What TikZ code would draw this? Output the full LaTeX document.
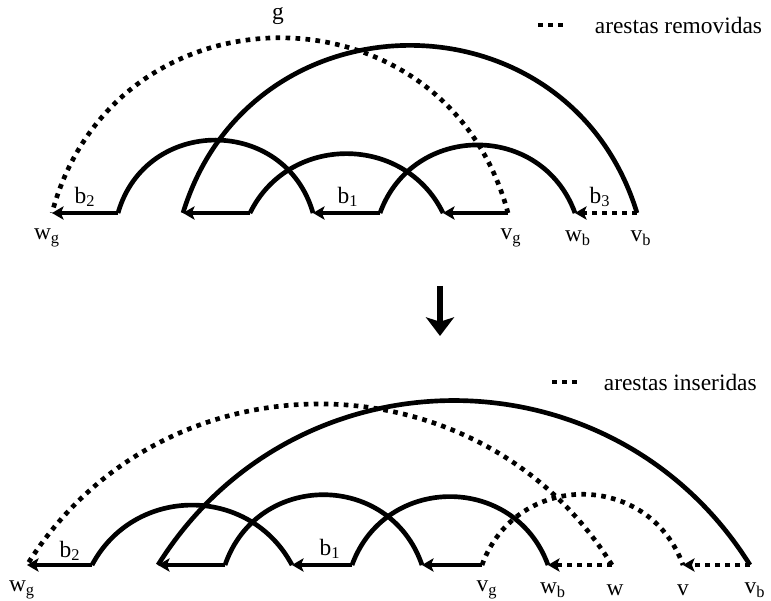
\documentclass[tikz,border=0pt]{standalone}
\usepackage{fontspec}
\setmainfont{Liberation Serif}
\usetikzlibrary{arrows.meta}

\tikzset{
  edge/.style={line width=0.105cm},
  dotedge/.style={line width=0.105cm, dash pattern=on 0.105cm off 0.12cm},
  tip/.style={-{Stealth[length=0.26cm,width=0.3cm,inset=0.06cm]}},
  lbl/.style={font=\fontsize{15}{17}\selectfont, inner sep=1pt}
}

\begin{document}
\begin{tikzpicture}[x=0.0225cm, y=-0.0225cm]
        \useasboundingbox (0,0) rectangle (771,601);

        % top line: points on the baseline
        \coordinate (tWg) at (52,213);
        \coordinate (tA) at (118,213);
        \coordinate (tB) at (183,213);
        \coordinate (tC) at (250,213);
        \coordinate (tD) at (313,213);
        \coordinate (tE) at (380,213);
        \coordinate (tF) at (443,213);
        \coordinate (tVg) at (508,213);
        \coordinate (tWb) at (575,213);
        \coordinate (tVb) at (637,213);

        % top arcs
        \draw[edge] (tA) to[out=74,in=106,looseness=1.33] (tD);
        \draw[edge] (tC) to[out=64,in=116,looseness=1.17] (tF);
        \draw[edge] (tE) to[out=70,in=110,looseness=1.27] (tWb);
        \draw[edge] (tB) to[out=73,in=107,looseness=1.32] (tVb);
        \draw[dotedge] (tVg) to[out=105,in=75,looseness=1.36] (tWg);

        % top horizontal edges
        \draw[edge,tip] (tA) -- (tWg);
        \draw[edge,tip] (tC) -- (tB);
        \draw[edge,tip] (tE) -- (tD);
        \draw[edge,tip] (tVg) -- (tF);
        \draw[dotedge,tip] (tVb) -- (tWb);

        % top labels
        \node[lbl] (g) at (278,16) {g};
        \node[lbl] (tb2) at (85,197) {b\textsubscript{2}};
        \node[lbl] (tb1) at (348,197) {b\textsubscript{1}};
        \node[lbl] (tb3) at (600,197) {b\textsubscript{3}};
        \node[lbl] (twg) at (47,238) {w\textsubscript{g}};
        \node[lbl] (tvg) at (511,238) {v\textsubscript{g}};
        \node[lbl] (twb) at (578,238) {w\textsubscript{b}};
        \node[lbl] (tvb) at (641,238) {v\textsubscript{b}};

        % legend top
        \coordinate (rmA) at (538,25);
        \coordinate (rmB) at (563,25);
        \draw[dotedge] (rmA) -- (rmB);
        \node[lbl,anchor=west] (rm) at (593,25) {arestas removidas};

        % arrow between the two lines
        \coordinate (dnA) at (440,286);
        \coordinate (dnB) at (440,336);
        \draw[line width=0.12cm,-{Stealth[length=0.42cm,width=0.63cm,inset=0.1cm]}] (dnA) -- (dnB);

        % bottom line: points on the baseline
        \coordinate (bWg) at (27,565);
        \coordinate (bA) at (92,565);
        \coordinate (bB) at (158,565);
        \coordinate (bC) at (225,565);
        \coordinate (bD) at (292,565);
        \coordinate (bE) at (352,565);
        \coordinate (bF) at (422,565);
        \coordinate (bVg) at (482,565);
        \coordinate (bWb) at (548,565);
        \coordinate (bW) at (612,565);
        \coordinate (bV) at (683,565);
        \coordinate (bVb) at (750,565);

        % bottom arcs
        \draw[edge] (bA) to[out=62,in=118,looseness=1.16] (bD);
        \draw[edge] (bC) to[out=71,in=109,looseness=1.29] (bF);
        \draw[edge] (bE) to[out=70,in=110,looseness=1.27] (bWb);
        \draw[edge] (bB) to[out=58,in=122,looseness=1.12] (bVb);
        \draw[dotedge] (bW) to[out=122,in=58,looseness=1.11] (bWg);
        \draw[dotedge] (bVg) to[out=70,in=110,looseness=1.28] (bV);

        % bottom horizontal edges
        \draw[edge,tip] (bA) -- (bWg);
        \draw[edge,tip] (bC) -- (bB);
        \draw[edge,tip] (bE) -- (bD);
        \draw[edge,tip] (bVg) -- (bF);
        \draw[dotedge,tip] (bW) -- (bWb);
        \draw[dotedge,tip] (bVb) -- (bV);

        % bottom labels
        \node[lbl] (bb2) at (70,551) {b\textsubscript{2}};
        \node[lbl] (bb1) at (330,549) {b\textsubscript{1}};
        \node[lbl] (bwg) at (22,590) {w\textsubscript{g}};
        \node[lbl] (bvg) at (487,590) {v\textsubscript{g}};
        \node[lbl] (bwb) at (553,590) {w\textsubscript{b}};
        \node[lbl] (bw) at (615,590) {w};
        \node[lbl] (bv) at (683,590) {v};
        \node[lbl] (bvb) at (755,590) {v\textsubscript{b}};

        % legend bottom
        \coordinate (inA) at (552,382);
        \coordinate (inB) at (580,382);
        \draw[dotedge] (inA) -- (inB);
        \node[lbl,anchor=west] (in) at (602,382) {arestas inseridas};
\end{tikzpicture}
\end{document}
